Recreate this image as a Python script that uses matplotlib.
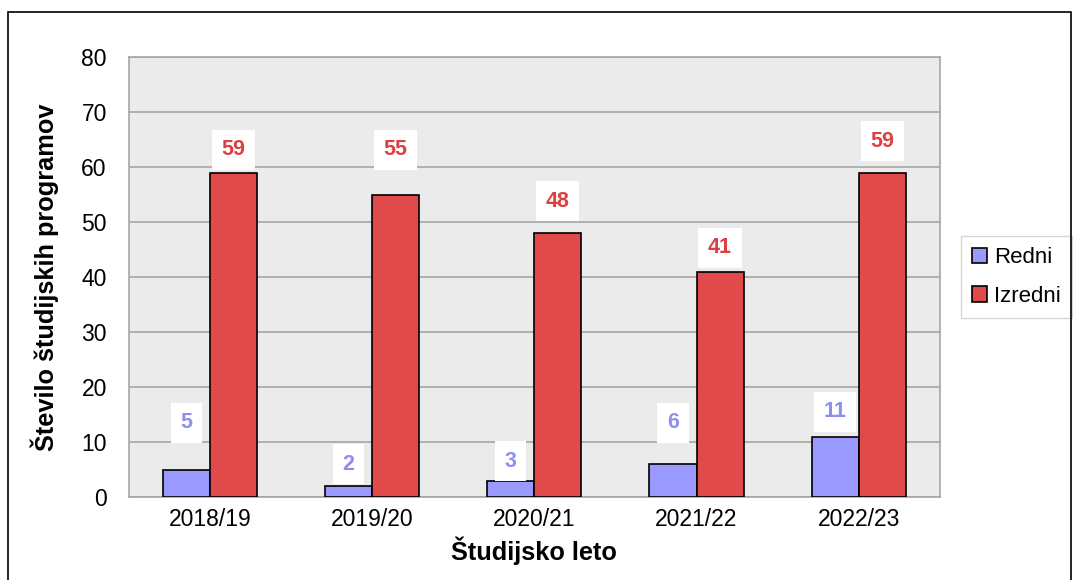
import matplotlib.pyplot as plt
import numpy as np
from matplotlib.patches import Rectangle

plt.rcParams['font.family'] = ['Liberation Sans', 'DejaVu Sans']

years = ['2018/19', '2019/20', '2020/21', '2021/22', '2022/23']
redni = [5, 2, 3, 6, 11]
izredni = [59, 55, 48, 41, 59]

# label offsets above each bar (labels were placed by hand in the original)
redni_off = [8.5, 4.0, 3.5, 7.5, 4.5]
izredni_off = [4.1, 8.1, 5.8, 4.3, 5.7]

blue = '#9999ff'
red = '#e04a4a'

fig = plt.figure(figsize=(10.73, 5.8), dpi=100)
ax = fig.add_axes([0.1202, 0.1431, 0.7556, 0.7586])

x = np.arange(len(years))
w = 0.29
ax.bar(x - w / 2, redni, w, color=blue, edgecolor='black', linewidth=1.2, label='Redni', zorder=3)
ax.bar(x + w / 2, izredni, w, color=red, edgecolor='black', linewidth=1.2, label='Izredni', zorder=3)

for i in range(len(years)):
    ax.text(x[i] - w / 2, redni[i] + redni_off[i], str(redni[i]), ha='center', va='center',
            fontsize=15.5, fontweight='bold', color='#8e8ef0', zorder=4,
            bbox=dict(facecolor='white', edgecolor='none', pad=7))
    ax.text(x[i] + w / 2, izredni[i] + izredni_off[i], str(izredni[i]), ha='center', va='center',
            fontsize=15.5, fontweight='bold', color='#dd4040', zorder=4,
            bbox=dict(facecolor='white', edgecolor='none', pad=7))

ax.set_xlim(-0.5, 4.5)
ax.set_ylim(0, 80)
ax.set_yticks(range(0, 81, 10))
ax.set_xticks(x)
ax.set_xticklabels(years)
ax.tick_params(axis='both', length=0, labelsize=16.5)
ax.tick_params(axis='y', pad=16)
ax.tick_params(axis='x', pad=8)
ax.set_facecolor('#ebebeb')
ax.grid(axis='y', color='#a6a6a6', linewidth=1.2)
ax.set_axisbelow(True)
for s in ax.spines.values():
    s.set_color('#a6a6a6')
    s.set_linewidth(1.2)

ax.set_xlabel('Študijsko leto', fontsize=18.3, fontweight='bold', labelpad=4)
ax.set_ylabel('Število študijskih programov', fontsize=18.3, fontweight='bold', labelpad=16)

leg = ax.legend(loc='center left', bbox_to_anchor=(1.012, 0.5), fontsize=16,
                frameon=True, fancybox=False, edgecolor='#cccccc', handlelength=0.7,
                handleheight=0.7, handletextpad=0.3, labelspacing=0.8, borderpad=0.5)
leg.get_frame().set_linewidth(1.0)

# outer frame around the chart
fig.patches.append(Rectangle((8 / 1073, -0.05), 1063 / 1073, 1.05 - 12 / 580,
                             transform=fig.transFigure, fill=False,
                             edgecolor='black', linewidth=1.2))

fig.savefig('out.png', dpi=100)
